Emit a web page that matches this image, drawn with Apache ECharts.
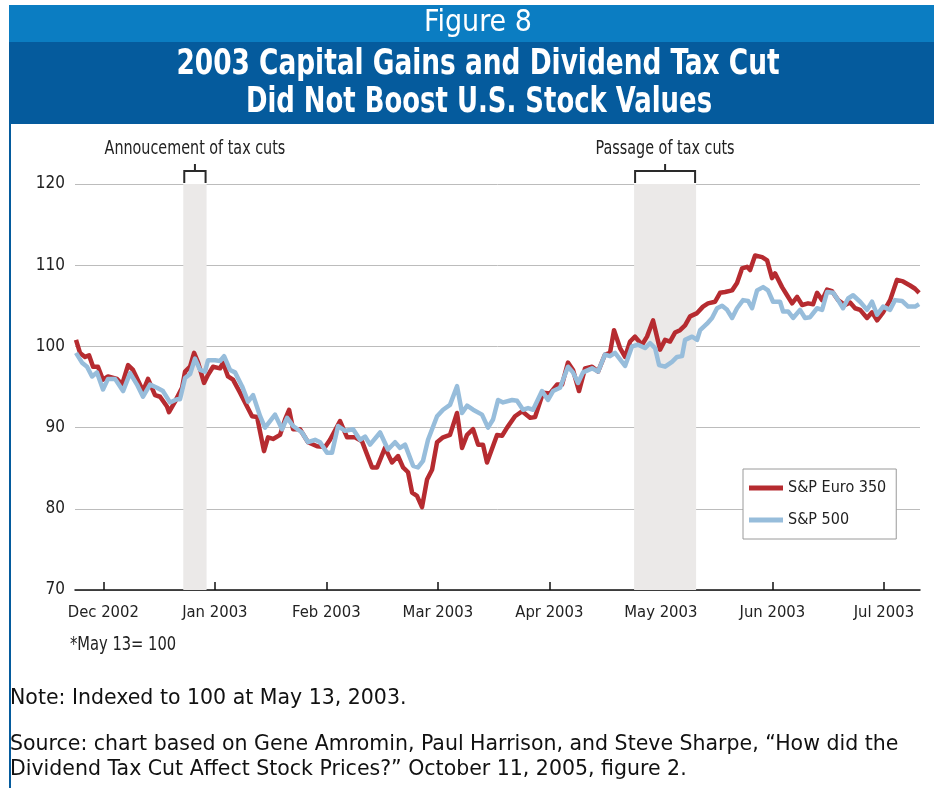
<!DOCTYPE html>
<html>
<head>
<meta charset="utf-8">
<script src="https://cdn.jsdelivr.net/npm/echarts@6/dist/echarts.min.js"></script>
<style>
html,body{margin:0;padding:0;background:#fff;}
#chart{width:934px;height:788px;}
</style>
</head>
<body>
<div id="chart"></div>
<script>
// x values: months since 1 Dec 2002 (0 = Dec 2002, 1 = Jan 2003, ...)
const monthLabels = ['Dec 2002','Jan 2003','Feb 2003','Mar 2003','Apr 2003','May 2003','Jun 2003','Jul 2003'];
const monthTicks = [0,1,2,3,4,5,6,7];
const yTicks = [70,80,90,100,110,120];

const euro350 = [[-0.245,100.8],[-0.209,99.2],[-0.164,98.7],[-0.128,98.9],[-0.092,97.5],[-0.048,97.5],[-0.003,95.9],[0.042,96.3],[0.123,96.0],[0.168,95.3],[0.222,97.7],[0.266,97.1],[0.356,94.5],[0.401,96.0],[0.464,94.0],[0.509,93.8],[0.571,92.6],[0.589,91.9],[0.643,93.2],[0.706,94.9],[0.733,96.9],[0.778,97.5],[0.814,99.2],[0.850,98.0],[0.903,95.5],[0.939,96.5],[0.984,97.5],[1.047,97.3],[1.074,98.0],[1.118,96.3],[1.163,95.9],[1.226,94.3],[1.289,92.6],[1.334,91.4],[1.379,91.3],[1.441,87.1],[1.477,88.8],[1.522,88.6],[1.585,89.1],[1.630,91.0],[1.666,92.2],[1.702,89.8],[1.764,89.8],[1.836,88.2],[1.917,87.7],[1.989,87.6],[2.033,88.5],[2.123,90.8],[2.186,88.8],[2.257,88.8],[2.320,88.3],[2.410,85.1],[2.455,85.1],[2.526,87.5],[2.589,85.7],[2.643,86.5],[2.688,85.1],[2.733,84.5],[2.769,82.0],[2.813,81.6],[2.858,80.2],[2.903,83.6],[2.948,84.8],[2.993,88.2],[3.047,88.8],[3.109,89.1],[3.172,91.8],[3.217,87.5],[3.262,89.1],[3.316,89.8],[3.361,87.9],[3.405,87.9],[3.441,85.7],[3.531,89.1],[3.576,89.0],[3.621,90.0],[3.692,91.4],[3.755,92.0],[3.827,91.2],[3.872,91.3],[3.943,94.3],[4.006,94.2],[4.069,95.3],[4.114,95.3],[4.167,98.0],[4.212,97.1],[4.266,94.5],[4.320,97.3],[4.383,97.5],[4.437,96.9],[4.499,99.0],[4.544,99.2],[4.580,102.0],[4.634,99.8],[4.679,98.7],[4.724,100.6],[4.768,101.2],[4.831,100.2],[4.876,101.2],[4.930,103.2],[4.993,99.6],[5.038,100.8],[5.082,100.6],[5.127,101.7],[5.172,102.0],[5.217,102.6],[5.262,103.7],[5.325,104.1],[5.378,104.9],[5.423,105.3],[5.486,105.5],[5.531,106.6],[5.576,106.7],[5.639,106.9],[5.683,107.8],[5.728,109.6],[5.773,109.8],[5.800,109.4],[5.845,111.2],[5.908,111.0],[5.953,110.6],[5.997,108.4],[6.024,109.0],[6.087,107.3],[6.132,106.3],[6.177,105.3],[6.222,106.1],[6.267,105.1],[6.320,105.3],[6.365,105.2],[6.401,106.6],[6.446,105.7],[6.491,107.0],[6.535,106.8],[6.589,105.7],[6.652,105.1],[6.697,105.4],[6.742,104.7],[6.787,104.5],[6.849,103.5],[6.894,104.2],[6.939,103.2],[6.993,104.2],[7.056,105.7],[7.118,108.2],[7.172,108.0],[7.235,107.5],[7.280,107.1],[7.316,106.6]];

const sp500 = [[-0.245,99.2],[-0.191,98.0],[-0.146,97.5],[-0.101,96.3],[-0.057,96.8],[-0.003,94.7],[0.042,96.0],[0.105,96.0],[0.177,94.5],[0.240,96.7],[0.302,95.3],[0.356,93.8],[0.419,95.3],[0.481,94.9],[0.535,94.5],[0.598,93.1],[0.661,93.5],[0.688,93.5],[0.733,96.1],[0.778,96.6],[0.822,98.5],[0.867,97.1],[0.912,96.9],[0.939,98.3],[1.002,98.3],[1.047,98.2],[1.083,98.8],[1.136,97.1],[1.181,96.8],[1.244,95.1],[1.298,93.2],[1.343,94.0],[1.406,91.4],[1.450,90.0],[1.495,90.8],[1.540,91.6],[1.603,89.8],[1.648,91.2],[1.702,90.2],[1.782,89.4],[1.836,88.2],[1.899,88.5],[1.944,88.2],[2.006,86.9],[2.051,86.9],[2.105,90.2],[2.168,89.6],[2.240,89.8],[2.302,88.5],[2.347,88.9],[2.392,87.9],[2.482,89.4],[2.553,87.3],[2.616,88.2],[2.661,87.5],[2.706,87.9],[2.778,85.3],[2.822,85.1],[2.867,85.9],[2.912,88.5],[2.993,91.4],[3.047,92.2],[3.109,92.8],[3.172,95.1],[3.217,91.8],[3.262,92.7],[3.316,92.2],[3.396,91.6],[3.450,90.0],[3.495,91.0],[3.540,93.4],[3.585,93.1],[3.666,93.4],[3.710,93.3],[3.764,92.2],[3.809,92.4],[3.854,92.2],[3.934,94.5],[3.988,93.4],[4.033,94.5],[4.096,94.9],[4.167,97.5],[4.212,96.8],[4.257,95.5],[4.302,96.8],[4.383,97.3],[4.437,96.9],[4.499,99.0],[4.544,98.8],[4.589,99.2],[4.679,97.6],[4.741,100.0],[4.795,100.2],[4.858,99.8],[4.903,100.4],[4.948,99.8],[4.984,97.7],[5.038,97.5],[5.100,98.1],[5.145,98.7],[5.190,98.8],[5.217,100.8],[5.280,101.2],[5.325,100.8],[5.352,102.0],[5.414,102.8],[5.459,103.5],[5.504,104.7],[5.549,105.0],[5.594,104.5],[5.639,103.5],[5.683,104.7],[5.737,105.7],[5.782,105.6],[5.818,104.7],[5.863,106.9],[5.917,107.3],[5.961,106.9],[6.006,105.5],[6.069,105.5],[6.096,104.3],[6.141,104.3],[6.186,103.5],[6.248,104.5],[6.293,103.5],[6.338,103.6],[6.401,104.7],[6.446,104.5],[6.491,106.7],[6.545,106.6],[6.589,105.7],[6.634,104.7],[6.679,105.9],[6.724,106.3],[6.787,105.5],[6.849,104.5],[6.894,105.5],[6.939,103.9],[6.993,104.9],[7.056,104.5],[7.100,105.7],[7.163,105.6],[7.218,104.9],[7.280,104.9],[7.316,105.2]];

// shaded event windows
const bandStart = [0.717, 4.760];
const bandEnd = [0.926, 5.316];
const bandLabels = ['Annoucement of tax cuts', 'Passage of tax cuts'];

const seriesNames = ['S&P Euro 350', 'S&P 500'];

const NARROW = "'DejaVu Sans Condensed','DejaVu Sans',sans-serif";
const chart = echarts.init(document.getElementById('chart'), null, {renderer: 'canvas'});

const bandAreas = bandStart.map((s, i) => [{xAxis: s}, {xAxis: bandEnd[i]}]);
const bracketData = bandStart.map((s, i) => [s, bandEnd[i], bandLabels[i]]);

const option = {
  animation: false,
  backgroundColor: '#fff',
  grid: {left: 75, right: 14, top: 184, bottom: 198, containLabel: false},
  xAxis: {
    type: 'value', min: -0.254, max: 7.324,
    axisLine: {show: true, onZero: false, lineStyle: {color: '#111', width: 1.5}},
    axisTick: {show: true, inside: true, length: 8, customValues: monthTicks, lineStyle: {color: '#111', width: 1.5}},
    axisLabel: {customValues: monthTicks, formatter: v => monthLabels[Math.round(v)], fontFamily: NARROW, fontSize: 16.5, color: '#222', margin: 14},
    splitLine: {show: false}
  },
  yAxis: {
    type: 'value', min: 70, max: 120, interval: 10,
    axisLine: {show: false}, axisTick: {show: false},
    axisLabel: {fontFamily: NARROW, fontSize: 17, color: '#222', margin: 10},
    splitLine: {lineStyle: {color: '#bcbcbc', width: 1}}
  },
  legend: {
    orient: 'vertical', left: 743, top: 469,
    data: seriesNames.map(n => ({name: n, icon: 'rect'})),
    itemWidth: 34, itemHeight: 5, itemGap: 12,
    padding: [9, 10, 9, 6],
    borderColor: '#9a9a9a', borderWidth: 1, backgroundColor: '#fff',
    textStyle: {fontFamily: NARROW, fontSize: 16, color: '#222', lineHeight: 20}
  },
  series: [
    {
      name: seriesNames[0], type: 'line', data: euro350, showSymbol: false, z: 3,
      color: '#b62b30',
      lineStyle: {width: 4.5, color: '#b62b30', join: 'round'},
      markArea: {silent: true, itemStyle: {color: '#ebe9e8'}, data: bandAreas, z: 1}
    },
    {
      name: seriesNames[1], type: 'line', data: sp500, showSymbol: false, z: 4,
      color: '#97bddb',
      lineStyle: {width: 4.5, color: '#97bddb', join: 'round'}
    },
    {
      type: 'custom', data: bracketData, clip: false, silent: true, z: 5,
      renderItem: (params, api) => {
        const a = api.coord([api.value(0), 120]);
        const b = api.coord([api.value(1), 120]);
        const y0 = a[1];
        const mid = (a[0] + b[0]) / 2;
        const label = bracketData[params.dataIndex][2];
        return {
          type: 'group',
          children: [
            {type: 'polyline', shape: {points: [[a[0]+1, y0 - 1], [a[0]+1, y0 - 13], [b[0]-1, y0 - 13], [b[0]-1, y0 - 1]]},
             style: {stroke: '#2a2a2a', lineWidth: 2, fill: null}},
            {type: 'line', shape: {x1: mid, y1: y0 - 13, x2: mid, y2: y0 - 20}, style: {stroke: '#2a2a2a', lineWidth: 2}},
            {type: 'text', x: mid, y: y0 - 35, scaleX: 0.84,
             style: {text: label, x: 0, y: 0, align: 'center', verticalAlign: 'middle', font: "19px " + NARROW, fill: '#222'}}
          ]
        };
      }
    }
  ],
  graphic: [
    {type: 'rect', shape: {x: 9, y: 5, width: 925, height: 37}, style: {fill: '#0b7dc2'}, silent: true},
    {type: 'rect', shape: {x: 9, y: 42, width: 925, height: 82}, style: {fill: '#055b9d'}, silent: true},
    {type: 'rect', shape: {x: 9, y: 124, width: 2, height: 664}, style: {fill: '#055b9d'}, silent: true},
    {type: 'text', x: 478, y: 23, style: {text: 'Figure 8', x: 0, y: 0, align: 'center', verticalAlign: 'middle', font: "30px 'DejaVu Sans Condensed','DejaVu Sans',sans-serif", fill: '#fff'}},
    {type: 'text', x: 478, y: 65, scaleX: 0.815, style: {text: '2003 Capital Gains and Dividend Tax Cut', x: 0, y: 0, align: 'center', verticalAlign: 'middle', font: "bold 36px " + NARROW, fill: '#fff'}},
    {type: 'text', x: 479, y: 103, scaleX: 0.80, style: {text: 'Did Not Boost U.S. Stock Values', x: 0, y: 0, align: 'center', verticalAlign: 'middle', font: "bold 36px " + NARROW, fill: '#fff'}},
    {type: 'text', x: 70, y: 645, scaleX: 0.86, style: {text: '*May 13= 100', x: 0, y: 0, align: 'left', verticalAlign: 'middle', font: "19px " + NARROW, fill: '#222'}},
    {type: 'text', style: {text: 'Note: Indexed to 100 at May 13, 2003.', x: 10, y: 699, align: 'left', verticalAlign: 'middle', font: "20.5px 'DejaVu Sans',sans-serif", fill: '#111'}},
    {type: 'text', style: {text: 'Source: chart based on Gene Amromin, Paul Harrison, and Steve Sharpe, \u201cHow did the', x: 10, y: 745, align: 'left', verticalAlign: 'middle', font: "20.5px 'DejaVu Sans',sans-serif", fill: '#111'}},
    {type: 'text', style: {text: 'Dividend Tax Cut Affect Stock Prices?\u201d October 11, 2005, figure 2.', x: 10, y: 770, align: 'left', verticalAlign: 'middle', font: "20.5px 'DejaVu Sans',sans-serif", fill: '#111'}}
  ]
};
chart.setOption(option);
</script>
</body>
</html>
